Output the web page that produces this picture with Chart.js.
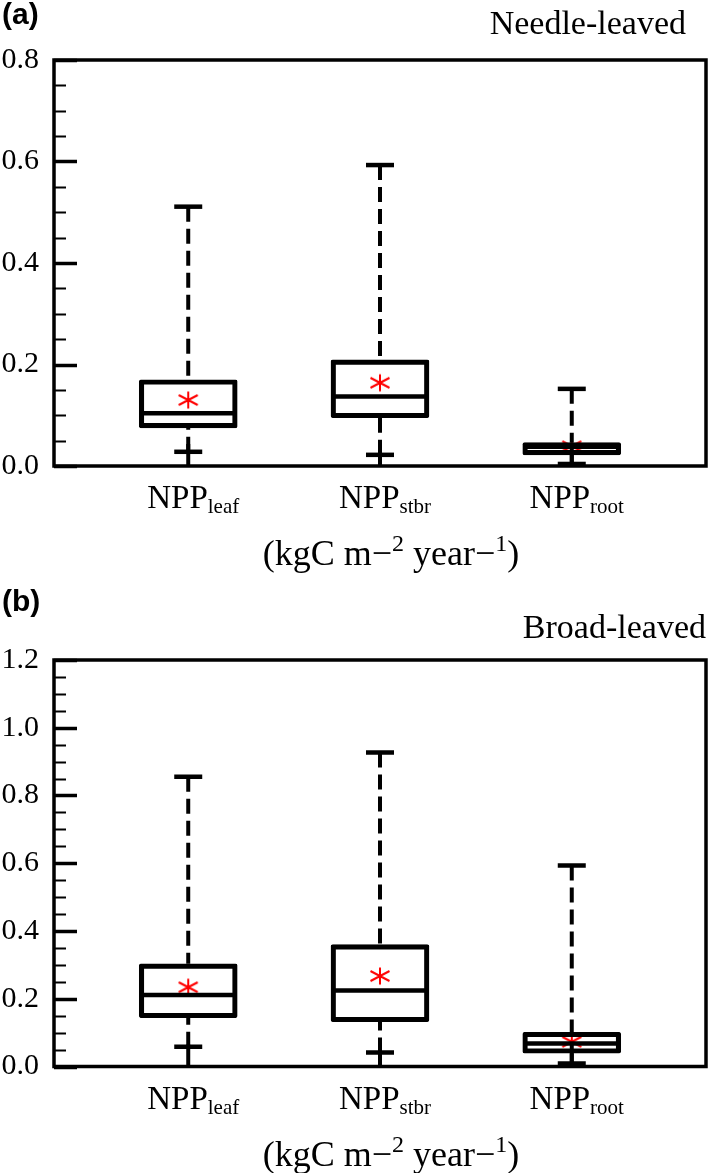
<!DOCTYPE html>
<html><head><meta charset="utf-8">
<script src="https://cdn.jsdelivr.net/npm/chart.js@4.4.0/dist/chart.umd.min.js"></script>
<style>
html,body{margin:0;padding:0;background:#fff;overflow:hidden;}
#wrap{width:709px;height:1173px;position:relative;overflow:hidden;background:#fff;}
.panel{position:absolute;left:0;width:709px;}
#pa{top:0;height:580px;}
#pb{top:580px;height:593px;}
</style></head><body>
<div id="wrap">
<div class="panel" id="pa"><canvas id="ca"></canvas></div>
<div class="panel" id="pb"><canvas id="cb"></canvas></div>
</div>
<script>
// ---------- data ----------
const categories = ['leaf', 'stbr', 'root'];   // subscripts of NPP
const positions = [1, 2, 3];
const unitParts = [['(kgC m\u2212', false], ['2', true], [' year\u2212', false], ['1', true], [')', false]];

const needleLow    = [0.028, 0.022, 0.004];
const needleQ1     = [0.075, 0.095, 0.022];
const needleMedian = [0.104, 0.137, 0.038];
const needleQ3     = [0.170, 0.209, 0.046];
const needleHigh   = [0.511, 0.593, 0.152];
const needleMean   = [0.130, 0.164, 0.039];
const needleTicks  = [0.0, 0.2, 0.4, 0.6, 0.8];

const broadLow    = [0.058, 0.041, 0.009];
const broadQ1     = [0.144, 0.132, 0.039];
const broadMedian = [0.211, 0.224, 0.068];
const broadQ3     = [0.303, 0.360, 0.101];
const broadHigh   = [0.855, 0.927, 0.593];
const broadMean   = [0.234, 0.267, 0.073];
const broadTicks  = [0.0, 0.2, 0.4, 0.6, 0.8, 1.0, 1.2];

// ---------- styles ----------
function makeAsterisk() {
  const c = document.createElement('canvas');
  c.width = 24; c.height = 22;
  const g = c.getContext('2d');
  g.strokeStyle = '#ff0000'; g.lineWidth = 2;
  g.beginPath();
  g.moveTo(12, 2.5); g.lineTo(12, 19.5);
  g.moveTo(2.5, 6); g.lineTo(21.5, 16);
  g.moveTo(2.5, 16); g.lineTo(21.5, 6);
  g.stroke();
  return c;
}
const asterisk = makeAsterisk();

const decoPlugin = {
  id: 'deco',
  afterDatasetsDraw(chart, args, o) {
    const ctx = chart.ctx, a = chart.chartArea;
    const y = chart.scales.y, x = chart.scales.x;
    ctx.save();
    ctx.strokeStyle = '#000';
    const n = Math.round((y.max - y.min) / o.minorStep);
    for (let i = 0; i <= n; i++) {
      const v = y.min + i * o.minorStep;
      const major = (i % o.minorPerMajor) === 0;
      const py = Math.round(y.getPixelForValue(v)) + 0.5;
      ctx.lineWidth = major ? 3.5 : 2;
      ctx.beginPath();
      ctx.moveTo(a.left, py);
      ctx.lineTo(a.left + (major ? 23 : 12), py);
      ctx.stroke();
    }
    ctx.lineWidth = 4;
    positions.forEach(p => {
      const px = x.getPixelForValue(p);
      ctx.beginPath();
      ctx.moveTo(px, a.bottom);
      ctx.lineTo(px, a.bottom - 22);
      ctx.stroke();
    });
    ctx.lineWidth = 3.5;
    ctx.strokeRect(a.left, a.top, a.right - a.left, a.bottom - a.top);
    ctx.restore();
  },
  afterDraw(chart, args, o) {
    const ctx = chart.ctx, a = chart.chartArea, x = chart.scales.x;
    ctx.save();
    ctx.fillStyle = '#000';
    ctx.textBaseline = 'alphabetic';
    ctx.font = 'bold 30px "Liberation Sans"';
    ctx.textAlign = 'left';
    ctx.fillText(o.letter, 2, o.letterY);
    ctx.font = '34px "Liberation Serif"';
    ctx.textAlign = 'right';
    ctx.fillText(o.title, o.titleRight, o.titleY);
    ctx.textAlign = 'left';
    categories.forEach((c, i) => {
      ctx.font = '33px "Liberation Serif"';
      const w1 = ctx.measureText('NPP').width;
      ctx.font = '21px "Liberation Serif"';
      const w2 = ctx.measureText(c).width;
      const cx = x.getPixelForValue(positions[i]) + 5;
      const x0 = cx - (w1 + w2) / 2;
      const by = a.bottom + 42;
      ctx.font = '33px "Liberation Serif"';
      ctx.fillText('NPP', x0, by);
      ctx.font = '21px "Liberation Serif"';
      ctx.fillText(c, x0 + w1, by + 5);
    });
    let tw = 0;
    unitParts.forEach(([t, sup]) => {
      ctx.font = (sup ? '24px' : '36px') + ' "Liberation Serif"';
      tw += ctx.measureText(t).width;
    });
    let ux = (a.left + a.right) / 2 + 11 - tw / 2;
    const uy = a.bottom + 99;
    unitParts.forEach(([t, sup]) => {
      ctx.font = (sup ? '24px' : '36px') + ' "Liberation Serif"';
      ctx.fillText(t, ux, sup ? uy - 14 : uy);
      ux += ctx.measureText(t).width;
    });
    ctx.restore();
  }
};

function makeChart(id, low, q1, med, q3, high, mean, ticks, deco, pad) {
  const datasets = [];
  // mean marker drawn first (under the box lines)
  datasets.push({
    type: 'scatter', order: 9,
    data: positions.map((p, i) => ({x: p, y: mean[i]})),
    pointStyle: asterisk, pointRadius: 10
  });
  positions.forEach((p, i) => {
    datasets.push({
      type: 'line', order: 5, showLine: true,
      data: [{x: p, y: high[i]}, {x: p, y: q3[i]}],
      borderColor: '#000', borderWidth: 4, borderDash: [15, 7],
      pointRadius: 0, fill: false
    });
    datasets.push({
      type: 'line', order: 5, showLine: true,
      data: [{x: p, y: low[i]}, {x: p, y: q1[i]}],
      borderColor: '#000', borderWidth: 4, borderDash: [15, 7],
      pointRadius: 0, fill: false
    });
  });
  datasets.push({
    type: 'bar', order: 4,
    data: positions.map((p, i) => ({x: p, y: [q1[i], q3[i]]})),
    backgroundColor: 'rgba(255,255,255,0)', borderColor: '#000', borderWidth: 4.5,
    borderSkipped: false, borderRadius: 2, barThickness: 98
  });
  datasets.push({
    type: 'scatter', order: 3,
    data: positions.map((p, i) => ({x: p, y: low[i]})).concat(positions.map((p, i) => ({x: p, y: high[i]}))),
    pointStyle: 'line', pointRadius: 14, pointBorderWidth: 4.5, pointBorderColor: '#000'
  });
  datasets.push({
    type: 'scatter', order: 2,
    data: positions.map((p, i) => ({x: p, y: med[i]})),
    pointStyle: 'line', pointRadius: 46, pointBorderWidth: 4.5, pointBorderColor: '#000'
  });

  return new Chart(document.getElementById(id), {
    type: 'scatter',
    data: {datasets},
    options: {
      responsive: true, maintainAspectRatio: false, animation: false, events: [],
      layout: {padding: pad, autoPadding: false},
      plugins: {legend: {display: false}, tooltip: {enabled: false}, deco},
      scales: {
        x: {type: 'linear', min: 0.3, max: 3.7, display: false, offset: false, grid: {offset: false}},
        y: {
          type: 'linear', min: ticks[0], max: ticks[ticks.length - 1],
          afterFit(s) { s.width = 54; },
          afterBuildTicks(s) { s.ticks = ticks.map(v => ({value: v})); },
          grid: {display: false, drawTicks: false},
          border: {display: false},
          ticks: {
            padding: 15, color: '#000',
            font: {family: 'Liberation Serif', size: 30},
            callback: v => Number(v).toFixed(1)
          }
        }
      }
    },
    plugins: [decoPlugin]
  });
}

makeChart('ca', needleLow, needleQ1, needleMedian, needleQ3, needleHigh, needleMean, needleTicks,
  {letter: '(a)', letterY: 24, title: 'Needle-leaved', titleRight: 686, titleY: 34, minorStep: 0.05, minorPerMajor: 4},
  {top: 60, right: 3, left: 0, bottom: 114});
makeChart('cb', broadLow, broadQ1, broadMedian, broadQ3, broadHigh, broadMean, broadTicks,
  {letter: '(b)', letterY: 31, title: 'Broad-leaved', titleRight: 706, titleY: 58, minorStep: 0.05, minorPerMajor: 4},
  {top: 80, right: 3, left: 0, bottom: 106.5});
</script>
</body></html>
